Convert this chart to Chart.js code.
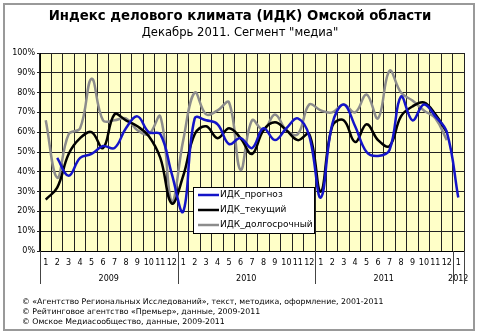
<!DOCTYPE html>
<html>
<head>
<meta charset="utf-8">
<script src="https://cdn.jsdelivr.net/npm/chart.js@4.4.1/dist/chart.umd.min.js"></script>
<style>
  body { margin: 0; background: #fff; }
  #wrap { position: relative; width: 480px; height: 334px; font-family: "DejaVu Sans", Verdana, sans-serif; }
  #frame { position: absolute; left: 3px; top: 3px; width: 468px; height: 324px; border: 2px solid #999; }
  #myChart { position: absolute; left: 0; top: 0; }
  .title { position: absolute; left: 0; width: 480px; text-align: center; color: #000; }
  #t1 { top: 8px; font-size: 13.3px; font-weight: bold; }
  #t2 { top: 25px; font-size: 11.6px; }
  .foot { position: absolute; left: 22px; font-size: 7.8px; color: #000; white-space: nowrap; }
</style>
</head>
<body>
<div id="wrap">
  <div id="frame"></div>
  <canvas id="myChart" width="480" height="334"></canvas>
  <div class="title" id="t1">Индекс делового климата (ИДК) Омской области</div>
  <div class="title" id="t2">Декабрь 2011. Сегмент "медиа"</div>
  <div class="foot" style="top:297px">© «Агентство Региональных Исследований», текст, методика, оформление, 2001-2011</div>
  <div class="foot" style="top:307px">© Рейтинговое агентство «Премьер», данные, 2009-2011</div>
  <div class="foot" style="top:317px">© Омское Медиасообщество, данные, 2009-2011</div>
</div>
<script>
// подписи месяцев и годов
const meses = ['1','2','3','4','5','6','7','8','9','10','11','12',
               '1','2','3','4','5','6','7','8','9','10','11','12',
               '1','2','3','4','5','6','7','8','9','10','11','12',
               '1'];
const anos = ['2009', '2010', '2011', '2012'];
const mesesPorAno = [12, 12, 12, 1];

const idkPrognoz = [null, 47, 38, 47, 49, 53, 52, 62, 68, 60, 59, 39,
                    20, 67, 66, 64, 54, 57, 52, 62, 56, 62, 67, 58,
                    27, 64, 74, 63, 50, 48, 51, 78, 66, 74, 68, 60,
                    27];
const idkTekushchiy = [26, 32, 49, 57, 60, 52, 69, 66, 63, 58, 47, 24,
                       38, 59, 63, 57, 62, 57, 49, 61, 65, 61, 56, 59,
                       30, 63, 66, 55, 64, 56, 53, 68, 73, 75, 69, 60,
                       null];
const idkDolgosrochny = [66, 37, 59, 62, 87, 66, 66, 67, 61, 59, 68, 25,
                         56, 80, 69, 71, 75, 41, 66, 61, 69, 61, 59, 74,
                         71, 70, 74, 70, 79, 67, 91, 80, 76, 71, 67, 56,
                         null];

const fundoPlot = {
    id: 'fundoPlot',
    beforeDraw(chart) {
        const a = chart.chartArea;
        const c = chart.ctx;
        c.save();
        c.fillStyle = '#FFFFC8';
        c.fillRect(a.left, a.top, a.right - a.left, a.bottom - a.top);
        c.restore();
    }
};

// годы под месяцами + разделители
const eixoAnos = {
    id: 'eixoAnos',
    afterDraw(chart) {
        const x = chart.scales.x;
        const c = chart.ctx;
        const larg = (x.right - x.left) / meses.length;
        const y0 = chart.chartArea.bottom;
        c.save();
        c.strokeStyle = '#444';
        c.lineWidth = 1;
        c.fillStyle = '#000';
        c.font = '8px "DejaVu Sans"';
        c.textAlign = 'center';
        c.textBaseline = 'middle';
        let inicio = 0;
        for (let i = 0; i < anos.length; i++) {
            const xa = x.getPixelForValue(inicio) - larg / 2;
            const xb = x.getPixelForValue(inicio + mesesPorAno[i] - 1) + larg / 2;
            c.beginPath();
            c.moveTo(Math.round(xa) + 0.5, y0);
            c.lineTo(Math.round(xa) + 0.5, y0 + 33);
            c.stroke();
            c.fillText(anos[i], (xa + xb) / 2, y0 + 28);
            inicio += mesesPorAno[i];
        }
        c.beginPath();
        c.moveTo(Math.round(x.right) + 0.5, y0);
        c.lineTo(Math.round(x.right) + 0.5, y0 + 33);
        c.stroke();
        c.restore();
    }
};

// легенда внутри области графика
const legendaBox = {
    id: 'legendaBox',
    afterDraw(chart) {
        const c = chart.ctx;
        const bx = 193, by = 187, bw = 121, bh = 46;
        c.save();
        c.fillStyle = '#fff';
        c.fillRect(bx, by, bw, bh);
        c.strokeStyle = '#000';
        c.lineWidth = 1;
        c.strokeRect(bx + 0.5, by + 0.5, bw, bh);
        c.font = '9px "DejaVu Sans"';
        c.textBaseline = 'middle';
        chart.data.datasets.forEach((ds, i) => {
            const yy = by + 8 + i * 15;
            c.strokeStyle = ds.borderColor;
            c.lineWidth = 2.5;
            c.beginPath();
            c.moveTo(bx + 5, yy);
            c.lineTo(bx + 26, yy);
            c.stroke();
            c.fillStyle = '#000';
            c.fillText(ds.label, bx + 27, yy);
        });
        c.restore();
    }
};

const ctx = document.getElementById('myChart').getContext('2d');

const myChart = new Chart(ctx, {
    type: 'line',
    data: {
        labels: meses,
        datasets: [{
            label: 'ИДК_прогноз',
            data: idkPrognoz,
            borderColor: '#1414C8',
            borderWidth: 2.5,
            pointRadius: 0,
            tension: 0.4
        }, {
            label: 'ИДК_текущий',
            data: idkTekushchiy,
            borderColor: '#000000',
            borderWidth: 2.5,
            pointRadius: 0,
            tension: 0.4
        }, {
            label: 'ИДК_долгосрочный',
            data: idkDolgosrochny,
            borderColor: '#8C8C8C',
            borderWidth: 2.5,
            pointRadius: 0,
            tension: 0.4
        }]
    },
    options: {
        responsive: false,
        animation: false,
        events: [],
        layout: { padding: { top: 53, right: 16, left: 0, bottom: 0 } },
        plugins: {
            legend: { display: false },
            tooltip: { enabled: false }
        },
        scales: {
            x: {
                offset: true,
                grid: { offset: true, color: '#222', drawTicks: false },
                border: { color: '#000' },
                ticks: {
                    autoSkip: false,
                    maxRotation: 0,
                    padding: 7,
                    color: '#000',
                    font: { family: 'DejaVu Sans', size: 8 }
                },
                afterFit(scale) { scale.height = 83; }
            },
            y: {
                min: 0,
                max: 100,
                grid: { color: '#222', tickLength: 3 },
                border: { color: '#000' },
                ticks: {
                    stepSize: 10,
                    padding: 2,
                    color: '#000',
                    font: { family: 'DejaVu Sans', size: 8 },
                    callback: v => v + '%'
                },
                afterFit(scale) { scale.width = 40; }
            }
        }
    },
    plugins: [fundoPlot, eixoAnos, legendaBox]
});
</script>
</body>
</html>
